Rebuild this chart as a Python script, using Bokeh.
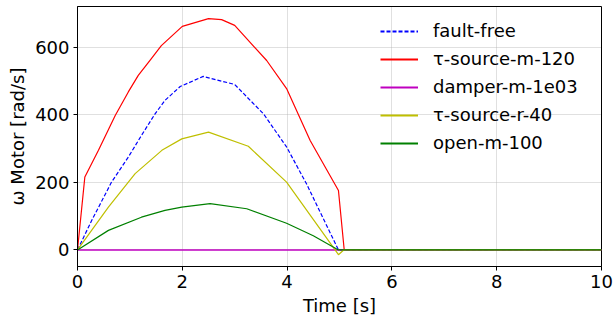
from bokeh.plotting import figure
from bokeh.models import Range1d, FixedTicker, Legend, LegendItem
from bokeh.embed import file_html
from bokeh.resources import INLINE

# ---- data ----
t_ff = [0, 0.27, 0.65, 0.97, 1.22, 1.48, 1.67, 1.96, 2.4, 3.0, 3.55, 3.99, 4.37, 4.98, 10]
w_ff = [0, 87, 201, 275, 339, 403, 443, 484, 514, 490, 403, 305, 196, 0, 0]

t_src_m = [0, 0.14, 0.4, 0.72, 0.97, 1.16, 1.38, 1.6, 2.0, 2.5, 2.75, 3.0, 3.61, 3.99, 4.44, 4.98, 5.09, 10]
w_src_m = [0, 216, 295, 398, 468, 517, 561, 605, 662, 685, 682, 665, 561, 478, 324, 176, 0, 0]

t_damp = [0, 10]
w_damp = [0, 0]

t_src_r = [0, 0.59, 1.10, 1.61, 1.99, 2.5, 3.26, 3.99, 4.98, 5.08, 10]
w_src_r = [0, 127, 226, 295, 329, 349, 307, 201, -14, 0, 0]

t_open = [0, 0.59, 1.22, 1.67, 1.99, 2.53, 3.23, 3.99, 4.5, 4.98, 10]
w_open = [0, 58, 97, 117, 127, 137, 122, 79, 42, 0, 0]

labels = ["fault-free", "τ-source-m-120", "damper-m-1e03", "τ-source-r-40", "open-m-100"]
colors = ["#0000ff", "#ff0000", "#bf00bf", "#bfbf00", "#008000"]
series = [(t_ff, w_ff), (t_src_m, w_src_m), (t_damp, w_damp), (t_src_r, w_src_r), (t_open, w_open)]
x_ticks = [0, 2, 4, 6, 8, 10]
y_ticks = [0, 200, 400, 600]

FONT = "DejaVu Sans"
FS = "18px"

p = figure(width=613, height=320, output_backend="svg", toolbar_location=None,
           x_range=Range1d(0, 10), y_range=Range1d(-49, 721),
           min_border_left=77, min_border_right=12, min_border_top=6, min_border_bottom=54)

p.outline_line_color = "black"
p.outline_line_width = 1
p.background_fill_color = "white"
p.border_fill_color = "white"

for ax in (p.xaxis[0], p.yaxis[0]):
    ax.major_label_text_font = FONT
    ax.major_label_text_font_size = FS
    ax.major_label_text_color = "black"
    ax.axis_label_text_font = FONT
    ax.axis_label_text_font_size = FS
    ax.axis_label_text_font_style = "normal"
    ax.axis_label_text_color = "black"
    ax.major_tick_in = 0
    ax.major_tick_out = 4
    ax.minor_tick_line_color = None
    ax.axis_line_color = "black"
    ax.major_tick_line_color = "black"

p.xaxis.ticker = FixedTicker(ticks=x_ticks)
p.yaxis.ticker = FixedTicker(ticks=y_ticks)
p.xaxis.axis_label = "Time [s]"
p.yaxis.axis_label = "ω Motor [rad/s]"
p.xaxis.axis_label_standoff = 4
p.yaxis.axis_label_standoff = 4
p.xaxis.major_label_standoff = 4
p.yaxis.major_label_standoff = 4

for g in (p.xgrid[0], p.ygrid[0]):
    g.grid_line_color = "#b0b0b0"
    g.grid_line_dash = "1 1"
    g.grid_line_width = 0.8

widths = [1.2, 1.2, 1.5, 1.2, 1.2]
for i, ((t, w), c) in enumerate(zip(series, colors)):
    p.line(t, w, line_color=c, line_width=widths[i],
           line_dash="4 2" if i == 0 else "solid")

# hidden copies used only for bolder legend samples
leg_r = []
for i, ((t, w), c) in enumerate(zip(series, colors)):
    r = p.line(t, w, line_color=c, line_width=1.8,
               line_dash="4 2" if i == 0 else "solid", visible=False)
    leg_r.append(r)

legend = Legend(items=[LegendItem(label=l, renderers=[r]) for l, r in zip(labels, leg_r)],
                location=(303, 113), border_line_color=None,
                background_fill_alpha=0, inactive_fill_alpha=0,
                label_text_font=FONT, label_text_color="black",
                label_text_font_size=FS, glyph_width=38, glyph_height=20,
                label_standoff=15, spacing=7, padding=8, margin=0)
p.add_layout(legend)

open("out.html", "w").write(file_html(p, INLINE))
